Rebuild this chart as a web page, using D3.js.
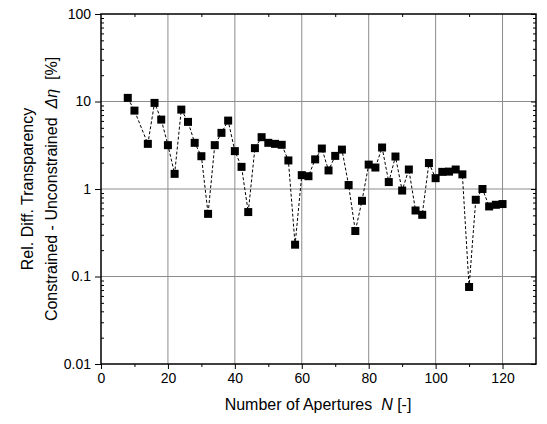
<!DOCTYPE html>
<html>
<head>
<meta charset="utf-8">
<style>
  body { margin: 0; background: #fff; }
  svg { font-family: "Liberation Sans", Arial, sans-serif; }
  .grid line { stroke: #8c8c8c; stroke-width: 1px; }
  .axis path, .axis line { stroke: #000; }
  .axis text { font-size: 14px; fill: #000; }
  .title { font-size: 16px; white-space: pre; }
</style>
<script src="https://cdn.jsdelivr.net/npm/d3@7"></script>
</head>
<body>
<div id="chart"></div>
<script>
var apertures = [8, 10, 14, 16, 18, 20, 22, 24, 26, 28, 30, 32, 34, 36, 38, 40, 42, 44, 46, 48,
  50, 52, 54, 56, 58, 60, 62, 64, 66, 68, 70, 72, 74, 76, 78, 80, 82, 84, 86, 88,
  90, 92, 94, 96, 98, 100, 102, 104, 106, 108, 110, 112, 114, 116, 118, 120];
var deltaEta = [11.0, 7.87, 3.28, 9.64, 6.21, 3.17, 1.49, 8.08, 5.85, 3.37, 2.37, 0.52, 3.17, 4.38, 6.05, 2.71, 1.79, 0.545, 2.93, 3.91,
  3.37, 3.28, 3.2, 2.12, 0.231, 1.44, 1.4, 2.18, 2.9, 1.63, 2.39, 2.82, 1.11, 0.331, 0.733, 1.9, 1.76, 2.98, 1.2, 2.35,
  0.96, 1.67, 0.568, 0.507, 1.98, 1.33, 1.57, 1.58, 1.67, 1.47, 0.0759, 0.753, 1.0, 0.632, 0.66, 0.673];
var xTicks = [0, 20, 40, 60, 80, 100, 120];
var yTicks = [0.01, 0.1, 1, 10, 100];
var yTickLabels = ['0.01', '0.1', '1', '10', '100'];

var width = 547, height = 424;
var pLeft = 101, pRight = 536, pTop = 14, pBottom = 364;

var svg = d3.select('#chart').append('svg')
  .attr('width', width).attr('height', height);

var x = d3.scaleLinear().domain([0, 130]).range([pLeft, pRight]);
var y = d3.scaleLog().domain([0.01, 100]).range([pBottom, pTop]);

var xMinor = d3.range(10, 130, 20);
var yMinor = [];
yTicks.slice(0, -1).forEach(function(d) {
  for (var k = 2; k <= 9; k++) yMinor.push(d * k);
});

// grid
var grid = svg.append('g').attr('class', 'grid');
grid.selectAll('.gx').data(xTicks.slice(1)).enter().append('line')
  .attr('x1', function(d) { return x(d); }).attr('x2', function(d) { return x(d); })
  .attr('y1', pTop).attr('y2', pBottom);
grid.selectAll('.gy').data(yTicks.slice(1, -1)).enter().append('line')
  .attr('x1', pLeft).attr('x2', pRight)
  .attr('y1', function(d) { return y(d); }).attr('y2', function(d) { return y(d); });

function noDomain(g) { g.select('.domain').remove(); }

// axes
svg.append('g').attr('class', 'axis')
  .attr('transform', 'translate(0,' + pBottom + ')')
  .call(d3.axisBottom(x).tickValues(xTicks).tickSize(5).tickPadding(4))
  .call(noDomain);

svg.append('g').attr('class', 'axis')
  .attr('transform', 'translate(0,' + pBottom + ')')
  .call(d3.axisBottom(x).tickValues(xMinor).tickSize(3).tickFormat(''))
  .call(noDomain);

svg.append('g').attr('class', 'axis')
  .attr('transform', 'translate(0,' + pTop + ')')
  .call(d3.axisTop(x).tickValues(xMinor).tickSize(-3).tickFormat(''))
  .call(noDomain);

svg.append('g').attr('class', 'axis')
  .attr('transform', 'translate(' + pLeft + ',0)')
  .call(d3.axisLeft(y).tickValues(yTicks).tickSize(6).tickPadding(4)
    .tickFormat(function(d, i) { return yTickLabels[i]; }))
  .call(noDomain);

svg.append('g').attr('class', 'axis')
  .attr('transform', 'translate(' + pLeft + ',0)')
  .call(d3.axisLeft(y).tickValues(yMinor).tickSize(-3).tickFormat(''))
  .call(noDomain);

svg.append('g').attr('class', 'axis')
  .attr('transform', 'translate(' + pRight + ',0)')
  .call(d3.axisRight(y).tickValues(yMinor).tickSize(-3).tickFormat(''))
  .call(noDomain);

svg.append('g').attr('class', 'axis')
  .attr('transform', 'translate(' + pRight + ',0)')
  .call(d3.axisRight(y).tickValues(yTicks).tickSize(-5).tickFormat(''))
  .call(noDomain);

// frame
svg.append('rect')
  .attr('x', pLeft).attr('y', pTop)
  .attr('width', pRight - pLeft).attr('height', pBottom - pTop)
  .attr('fill', 'none').attr('stroke', '#000').attr('stroke-width', 1.5);

// data
var data = apertures.map(function(n, i) { return { n: n, v: deltaEta[i] }; });

var line = d3.line()
  .x(function(d) { return x(d.n); })
  .y(function(d) { return y(d.v); });

svg.append('path')
  .datum(data)
  .attr('d', line)
  .attr('fill', 'none')
  .attr('stroke', '#000')
  .attr('stroke-width', 1)
  .attr('stroke-dasharray', '3,2');

var s = 8;
svg.selectAll('.dot').data(data).enter().append('rect')
  .attr('class', 'dot')
  .attr('x', function(d) { return x(d.n) - s / 2; })
  .attr('y', function(d) { return y(d.v) - s / 2; })
  .attr('width', s).attr('height', s)
  .attr('fill', '#000');

// axis titles
var xt = svg.append('text')
  .attr('class', 'title')
  .attr('x', 318).attr('y', 410)
  .attr('text-anchor', 'middle');
xt.append('tspan').text('Number of Apertures  ');
xt.append('tspan').style('font-style', 'italic').text('N');
xt.append('tspan').text(' [-]');

svg.append('text')
  .attr('class', 'title')
  .attr('transform', 'translate(33,189) rotate(-90)')
  .attr('text-anchor', 'middle')
  .text('Rel. Diff. Transparency');

var yt = svg.append('text')
  .attr('class', 'title')
  .attr('transform', 'translate(57,189) rotate(-90)')
  .attr('text-anchor', 'middle');
yt.append('tspan').text('Constrained - Unconstrained  ');
yt.append('tspan').style('font-style', 'italic').text('\u0394\u03b7');
yt.append('tspan').text('  [%]');
</script>
</body>
</html>
